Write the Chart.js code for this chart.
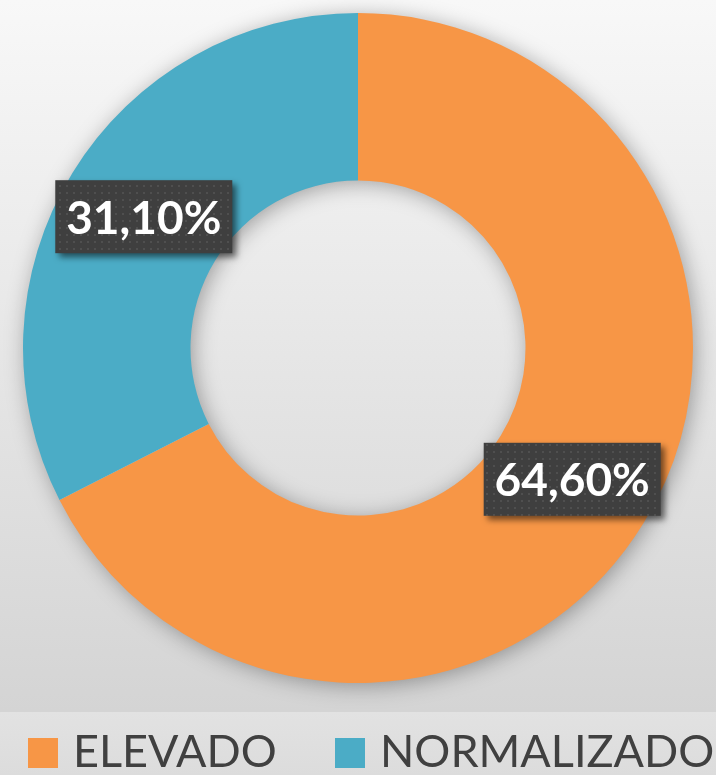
<!DOCTYPE html>
<html>
<head>
<meta charset="utf-8">
<script src="https://cdn.jsdelivr.net/npm/chart.js@4.4.1/dist/chart.umd.min.js"></script>
<style>
  html, body { margin: 0; padding: 0; background: #e1e1e1; }
  #wrap { width: 716px; height: 775px; }
</style>
</head>
<body>
<div id="wrap"><canvas id="myChart" width="716" height="775"></canvas></div>
<script>
// data
const categories = ['ELEVADO', 'NORMALIZADO'];
const values = [64.6, 31.1];
const valueLabels = ['64,60%', '31,10%'];
const colors = ['#F79646', '#4BACC6'];

// dotted fill for the label boxes
function makePattern(ctx) {
    const c = document.createElement('canvas');
    c.width = 7; c.height = 7;
    const p = c.getContext('2d');
    p.fillStyle = '#3f3f3f';
    p.fillRect(0, 0, 7, 7);
    p.fillStyle = '#4f4f4f';
    p.fillRect(3, 3, 2, 2);
    return ctx.createPattern(c, 'repeat');
}

const backgroundPlugin = {
    id: 'bg',
    beforeDraw(chart) {
        const ctx = chart.ctx;
        const w = chart.width, h = chart.height;
        ctx.save();
        const g = ctx.createLinearGradient(0, 0, 0, 712);
        g.addColorStop(0, '#f8f8f8');
        g.addColorStop(1, '#d4d4d4');
        ctx.fillStyle = g;
        ctx.fillRect(0, 0, w, 712);
        const g2 = ctx.createLinearGradient(0, 712, 0, h);
        g2.addColorStop(0, '#e2e2e2');
        g2.addColorStop(1, '#dcdcdc');
        ctx.fillStyle = g2;
        ctx.fillRect(0, 712, w, h - 712);
        ctx.restore();
    }
};

const shadowPlugin = {
    id: 'ringShadow',
    beforeDatasetsDraw(chart) {
        const arc = chart.getDatasetMeta(0).data[0];
        if (!arc) return;
        const ctx = chart.ctx;
        ctx.save();
        ctx.shadowColor = 'rgba(0,0,0,0.35)';
        ctx.shadowBlur = 22;
        ctx.shadowOffsetX = 3;
        ctx.shadowOffsetY = 3;
        ctx.fillStyle = '#d0d0d0';
        ctx.beginPath();
        ctx.arc(arc.x, arc.y, arc.outerRadius - 1, 0, Math.PI * 2);
        ctx.arc(arc.x, arc.y, arc.innerRadius + 1, 0, Math.PI * 2, true);
        ctx.fill();
        ctx.restore();
    }
};

const labelPlugin = {
    id: 'valueBoxes',
    afterDatasetsDraw(chart) {
        const ctx = chart.ctx;
        const pattern = makePattern(ctx);
        chart.getDatasetMeta(0).data.forEach((arc, i) => {
            const pos = arc.tooltipPosition();
            const bw = 177, bh = 73;
            ctx.save();
            ctx.shadowColor = 'rgba(0,0,0,0.55)';
            ctx.shadowBlur = 6;
            ctx.shadowOffsetX = 4;
            ctx.shadowOffsetY = 4;
            ctx.fillStyle = pattern;
            ctx.fillRect(pos.x - bw / 2, pos.y - bh / 2, bw, bh);
            ctx.restore();
            ctx.save();
            ctx.fillStyle = '#ffffff';
            ctx.font = 'bold 46px Lato';
            ctx.textAlign = 'center';
            ctx.textBaseline = 'middle';
            ctx.fillText(valueLabels[i], pos.x, pos.y + 2);
            ctx.restore();
        });
    }
};

// legend drawn by hand so the spacing can follow the picture
const legendX = [28, 335];
const legendPlugin = {
    id: 'bottomLegend',
    afterDraw(chart) {
        const ctx = chart.ctx;
        ctx.save();
        ctx.font = '45px Lato';
        ctx.textBaseline = 'alphabetic';
        ctx.textAlign = 'left';
        categories.forEach((name, i) => {
            ctx.fillStyle = colors[i];
            ctx.fillRect(legendX[i], 738, 30, 30);
            ctx.fillStyle = '#404040';
            ctx.fillText(name, legendX[i] + 45, 767);
        });
        ctx.restore();
    }
};

const ctx = document.getElementById('myChart').getContext('2d');
new Chart(ctx, {
    type: 'doughnut',
    data: {
        labels: categories,
        datasets: [{
            data: values,
            backgroundColor: colors,
            borderWidth: 0,
            hoverOffset: 0
        }]
    },
    options: {
        responsive: false,
        animation: false,
        cutout: '50%',
        layout: { padding: { top: 13, left: 0, right: 0, bottom: 92 } },
        plugins: {
            tooltip: { enabled: false },
            legend: { display: false }
        }
    },
    plugins: [backgroundPlugin, shadowPlugin, labelPlugin, legendPlugin]
});
</script>
</body>
</html>
